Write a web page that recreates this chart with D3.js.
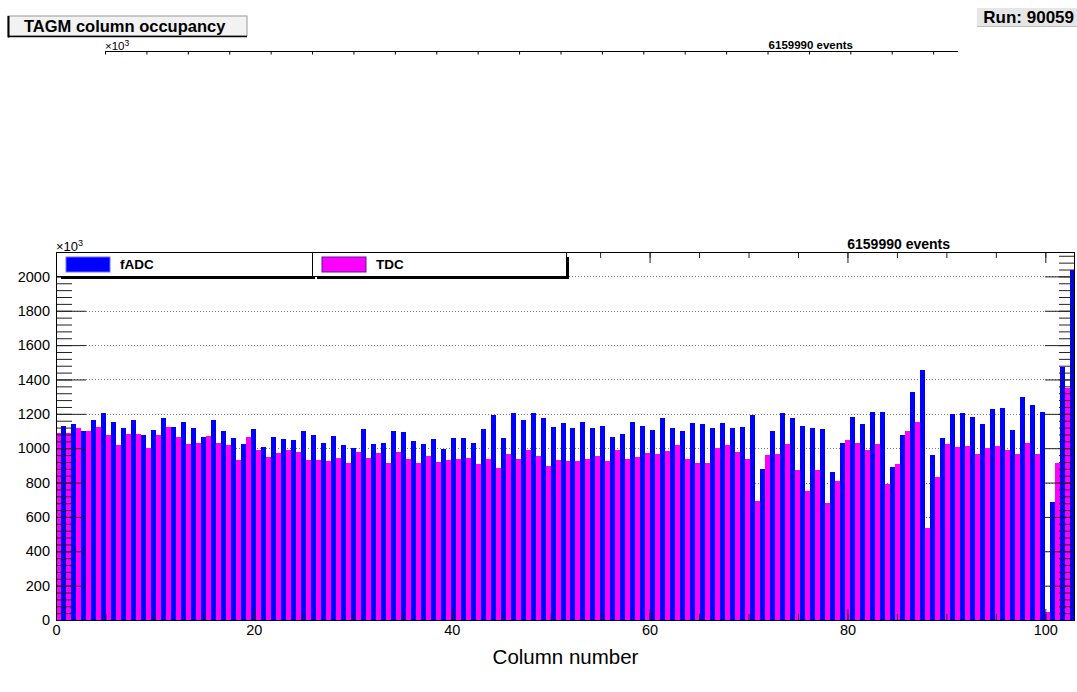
<!DOCTYPE html>
<html>
<head>
<meta charset="utf-8">
<script src="https://cdn.jsdelivr.net/npm/d3@7"></script>
<style>
  body { margin: 0; background: #fff; }
  svg { display: block; font-family: "Liberation Sans", Arial, Helvetica, sans-serif; }
</style>
</head>
<body>
<svg id="chart" width="1077" height="692"></svg>
<script>
// Occupancy per TAGM column (in units of 10^3 hits)
const fadc = [
  1129, 1140, 1098, 1167, 1206, 1154, 1115, 1167, 1077, 1106,
  1173, 1125, 1154, 1115, 1063, 1163, 1102, 1060, 1027, 1112,
  1008, 1063, 1054, 1050, 1098, 1077, 1031, 1069, 1021, 1000,
  1112, 1027, 1031, 1098, 1096, 1044, 1025, 1052,  995, 1058,
  1058, 1029, 1114, 1192, 1058, 1202, 1167, 1206, 1177, 1126,
  1145, 1116, 1155, 1120, 1130, 1064, 1083, 1155, 1130, 1106,
  1178, 1120, 1103, 1145, 1141, 1116, 1145, 1120, 1124, 1194,
   880, 1101, 1206, 1175, 1128, 1117, 1113,  860, 1031, 1183,
  1140, 1210, 1210,  893, 1078, 1330, 1458,  961, 1060, 1198,
  1206, 1183, 1140, 1227, 1233, 1107, 1297, 1251, 1210,  688,
  1472, 2040
];
const tdc = [
  1087, 1090, 1115, 1098, 1125, 1077, 1017, 1083, 1081, 1000,
  1077, 1125, 1063, 1025, 1031, 1071, 1031, 1017,  933, 1063,
   990,  948,  971,  990,  975,  933,  933,  923,  942,  913,
   975,  942,  971,  913,  975,  938,  913,  956,  919,  933,
   938,  942,  910,  938,  887,  965,  938,  990,  956,  894,
   933,  927,  923,  938,  956,  923,  990,  938,  946,  971,
   965,  985, 1017,  938,  913,  913, 1000, 1017,  979,  938,
   693,  961,  967, 1023,  874,  748,  874,  682,  810, 1047,
  1031,  988, 1027,  794,  909, 1101, 1153,  538,  833, 1027,
  1008, 1014,  969, 1002, 1014,  988,  967, 1031,  969,   45,
   913, 1350
];
const seriesNames = ["fADC", "TDC"];
const seriesColors = ["#0000ff", "#ff00ff"];
const xRange = [0, 103];
const xTickLabels = [0, 20, 40, 60, 80, 100];
const yTickLabels = [0, 200, 400, 600, 800, 1000, 1200, 1400, 1600, 1800, 2000];
const titleText = "TAGM column occupancy";
const runText = "Run: 90059";
const eventsText = "6159990 events";
const xTitle = "Column number";

const svg = d3.select("#chart");
const frame = { left: 56, right: 1075, top: 252, bottom: 620 };

const nBins = fadc.length;
const binW = (xRange[1] - xRange[0]) / nBins;
const yMax = d3.max(fadc.concat(tdc)) * 1.05;

const x = d3.scaleLinear().domain(xRange).range([frame.left, frame.right]);
const y = d3.scaleLinear().domain([0, yMax]).range([frame.bottom, frame.top]);

// ---------- header: title pave and run label ----------
const head = svg.append("g");
head.append("rect").attr("x", 8).attr("y", 16).attr("width", 239).attr("height", 20)
  .attr("fill", "#f2f2f2").attr("stroke", "#9a9a9a").attr("stroke-width", 1);
head.append("line").attr("x1", 8.5).attr("x2", 8.5).attr("y1", 16).attr("y2", 37.5)
  .attr("stroke", "#000").attr("stroke-width", 2);
head.append("line").attr("x1", 8).attr("x2", 247).attr("y1", 36.5).attr("y2", 36.5)
  .attr("stroke", "#000").attr("stroke-width", 1.5);
head.append("text").attr("x", 24).attr("y", 31.5)
  .attr("font-size", 16.5).attr("font-weight", "bold").text(titleText);

head.append("rect").attr("x", 977).attr("y", 8).attr("width", 100).attr("height", 18)
  .attr("fill", "#e6e6e6");
head.append("line").attr("x1", 977).attr("x2", 1077).attr("y1", 26.5).attr("y2", 26.5)
  .attr("stroke", "#bdbdbd");
head.append("text").attr("x", 1074).attr("y", 23).attr("text-anchor", "end")
  .attr("font-size", 17).attr("font-weight", "bold").text(runText);

// ---------- compressed upper axis strip ----------
const xs = d3.scaleLinear().domain(xRange).range([105, 958]);
const strip = svg.append("g");
strip.append("line").attr("x1", xs(xRange[0])).attr("x2", xs(xRange[1]))
  .attr("y1", 51.5).attr("y2", 51.5).attr("stroke", "#000");
strip.append("g").attr("transform", "translate(0,51.5)")
  .call(d3.axisBottom(xs).tickValues(d3.range(0, 101, 5)).tickSize(3).tickFormat(""))
  .call(g => g.select(".domain").remove());
const sup1 = strip.append("text").attr("x", 105).attr("y", 50).attr("font-size", 11.5);
sup1.append("tspan").text("\u00d710");
sup1.append("tspan").attr("font-size", 8.5).attr("dy", -4).text("3");
strip.append("text").attr("x", 853).attr("y", 48.5).attr("text-anchor", "end")
  .attr("font-size", 11.5).attr("font-weight", "bold").text(eventsText);

// ---------- main frame ----------
const plot = svg.append("g");

// horizontal dotted grid
plot.append("g").selectAll("line").data(yTickLabels.filter(v => v > 0)).join("line")
  .attr("x1", frame.left).attr("x2", frame.right)
  .attr("y1", d => Math.round(y(d)) + 0.5).attr("y2", d => Math.round(y(d)) + 0.5)
  .attr("stroke", "#7a7a7a").attr("stroke-dasharray", "1,2");

// bars: TDC in left half of each bin, fADC in right half.
// Half-bin edges are snapped to whole pixels once so neighbours share edges.
const bins = d3.range(nBins);
const edges = d3.range(2 * nBins + 1).map(k => Math.round(x(xRange[0] + k * binW / 2)));

plot.append("g").selectAll("rect").data(bins).join("rect")
  .attr("x", i => edges[2 * i])
  .attr("width", i => edges[2 * i + 1] - edges[2 * i])
  .attr("y", i => Math.round(y(tdc[i])))
  .attr("height", i => frame.bottom - Math.round(y(tdc[i])))
  .attr("fill", seriesColors[1]).attr("shape-rendering", "crispEdges");

plot.append("g").selectAll("rect").data(bins).join("rect")
  .attr("x", i => edges[2 * i + 1])
  .attr("width", i => edges[2 * i + 2] - edges[2 * i + 1])
  .attr("y", i => Math.round(y(fadc[i])))
  .attr("height", i => frame.bottom - Math.round(y(fadc[i])))
  .attr("fill", seriesColors[0]).attr("shape-rendering", "crispEdges");

// ---------- axes ----------
const yMinor = d3.range(0, yMax, 40);
const xMinor = d3.range(0, 101, 5);
const tickStyle = g => {
  g.select(".domain").remove();
  g.selectAll(".tick line").attr("stroke", "#222");
};

// left
plot.append("g").attr("transform", `translate(${frame.left},0)`)
  .call(d3.axisRight(y).tickValues(yMinor).tickSize(16).tickFormat("")).call(tickStyle);
plot.append("g").attr("transform", `translate(${frame.left},0)`)
  .call(d3.axisRight(y).tickValues(yTickLabels).tickSize(30).tickFormat("")).call(tickStyle);
plot.append("g").attr("transform", `translate(${frame.left},0)`)
  .call(d3.axisLeft(y).tickValues(yTickLabels).tickSize(0).tickPadding(6).tickFormat(d3.format("d")))
  .call(g => g.select(".domain").remove())
  .call(g => g.selectAll("text").attr("font-size", 14.5).attr("fill", "#000")
    .attr("font-family", '"Liberation Sans", Arial, sans-serif'));

// right
plot.append("g").attr("transform", `translate(${frame.right},0)`)
  .call(d3.axisLeft(y).tickValues(yMinor).tickSize(16).tickFormat("")).call(tickStyle);
plot.append("g").attr("transform", `translate(${frame.right},0)`)
  .call(d3.axisLeft(y).tickValues(yTickLabels).tickSize(30).tickFormat("")).call(tickStyle);

// bottom
plot.append("g").attr("transform", `translate(0,${frame.bottom})`)
  .call(d3.axisTop(x).tickValues(xMinor).tickSize(6).tickFormat("")).call(tickStyle);
plot.append("g").attr("transform", `translate(0,${frame.bottom})`)
  .call(d3.axisTop(x).tickValues(xTickLabels).tickSize(11).tickFormat("")).call(tickStyle);
plot.append("g").attr("transform", `translate(0,${frame.bottom})`)
  .call(d3.axisBottom(x).tickValues(xTickLabels).tickSize(0).tickPadding(5).tickFormat(d3.format("d")))
  .call(g => g.select(".domain").remove())
  .call(g => g.selectAll("text").attr("font-size", 14.5).attr("fill", "#000")
    .attr("font-family", '"Liberation Sans", Arial, sans-serif'));

// top
plot.append("g").attr("transform", `translate(0,${frame.top})`)
  .call(d3.axisBottom(x).tickValues(xMinor).tickSize(6).tickFormat("")).call(tickStyle);
plot.append("g").attr("transform", `translate(0,${frame.top})`)
  .call(d3.axisBottom(x).tickValues(xTickLabels).tickSize(11).tickFormat("")).call(tickStyle);

// frame border
plot.append("rect").attr("x", frame.left + 0.5).attr("y", frame.top + 0.5)
  .attr("width", frame.right - frame.left - 1).attr("height", frame.bottom - frame.top)
  .attr("fill", "none").attr("stroke", "#000");

// axis title and annotations
svg.append("text").attr("x", (frame.left + frame.right) / 2).attr("y", 664)
  .attr("text-anchor", "middle").attr("font-size", 20.5).text(xTitle);

const sup2 = svg.append("text").attr("x", frame.left).attr("y", 250.5).attr("font-size", 13);
sup2.append("tspan").text("\u00d710");
sup2.append("tspan").attr("font-size", 9).attr("dy", -5).text("3");

svg.append("text").attr("x", 950).attr("y", 249).attr("text-anchor", "end")
  .attr("font-size", 14).attr("font-weight", "bold").text(eventsText);

// ---------- legend: one boxed cell per series ----------
const legendCells = [
  { x0: 56, x1: 312 },
  { x0: 312, x1: 566 }
];
const legend = svg.append("g");
legendCells.forEach(c => {
  legend.append("rect").attr("x", c.x0 + 5).attr("y", frame.top + 5)
    .attr("width", c.x1 - c.x0 - 2).attr("height", 22).attr("fill", "#000");
});
legendCells.forEach((c, i) => {
  const g = legend.append("g");
  g.append("rect").attr("x", c.x0 + 0.5).attr("y", frame.top + 0.5)
    .attr("width", c.x1 - c.x0).attr("height", 24)
    .attr("fill", "#fff").attr("stroke", "#000");
  g.append("rect").attr("x", c.x0 + 10).attr("y", frame.top + 5)
    .attr("width", 44).attr("height", 15)
    .attr("fill", seriesColors[i])
    .attr("stroke", i === 1 ? "#5a1a9a" : "#6f6fff").attr("stroke-width", 1);
  g.append("text").attr("x", c.x0 + 64).attr("y", frame.top + 17)
    .attr("font-size", 13.5).attr("font-weight", "bold").text(seriesNames[i]);
});
</script>
</body>
</html>
